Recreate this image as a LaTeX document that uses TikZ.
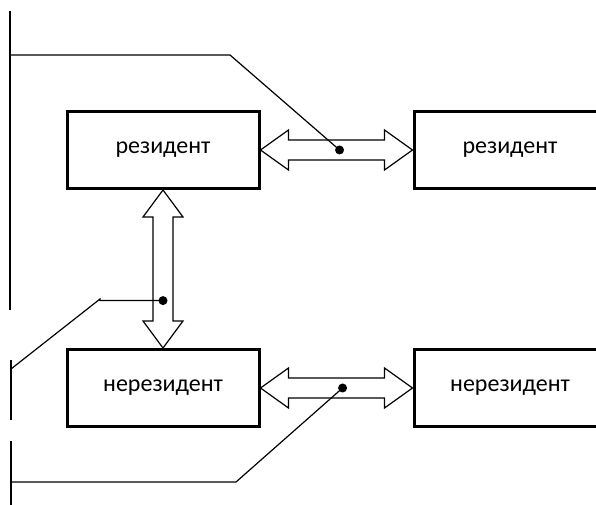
\documentclass[tikz,border=0pt]{standalone}
\usepackage{fontspec}
\setmainfont{Carlito}
\usetikzlibrary{calc}

\tikzset{
    party/.style={draw, line width=3pt, minimum width=192pt, minimum height=77pt,
        inner sep=0pt, font=\fontsize{24}{28}\selectfont},
    widearrow/.style={draw, line width=1.2pt, fill=white, line join=miter},
    lead/.style={line width=1.2pt},
    dot/.style={circle, fill=black, inner sep=0pt, minimum size=9pt}
}

% horizontal and vertical hollow double arrows between two anchors
\newcommand\hwide[2]{\draw[widearrow] (#1) -- ($(#1)+(28,20)$) -- ($(#1)+(28,10)$)
    -- ($(#2)+(-28,10)$) -- ($(#2)+(-28,20)$) -- (#2) -- ($(#2)+(-28,-20)$)
    -- ($(#2)+(-28,-10)$) -- ($(#1)+(28,-10)$) -- ($(#1)+(28,-20)$) -- cycle;}
\newcommand\vwide[2]{\draw[widearrow] (#1) -- ($(#1)+(20,-27)$) -- ($(#1)+(10,-27)$)
    -- ($(#2)+(10,27)$) -- ($(#2)+(20,27)$) -- (#2) -- ($(#2)+(-20,27)$)
    -- ($(#2)+(-10,27)$) -- ($(#1)+(-10,-27)$) -- ($(#1)+(-20,-27)$) -- cycle;}

\begin{document}
\begin{tikzpicture}[x=1pt, y=1pt]
    \useasboundingbox (0,0) rectangle (596,505);

    \node[party] (res1) at (163,355) {резидент};
    \node[party] (res2) at (510,355) {резидент};
    \node[party] (nonres1) at (163,117) {нерезидент};
    \node[party] (nonres2) at (510,117) {нерезидент};

    \hwide{res1.east}{res2.west}
    \vwide{res1.south}{nonres1.north}
    \hwide{nonres1.east}{nonres2.west}

    \node[dot] (topdot) at ($(res1.east)!0.52!(res2.west)$) {};
    \node[dot] (middot) at ($(res1.south)!0.70!(nonres1.north)$) {};
    \node[dot] (lowdot) at ($(nonres1.east)!0.54!(nonres2.west)$) {};

    % brackets on the left
    \coordinate (b1top) at (10,494);
    \coordinate (b1bot) at (10,195);
    \coordinate (b1arm) at (10,450);
    \coordinate (b1knee) at (230,450);
    \coordinate (b2top) at (11,145);
    \coordinate (b2bot) at (11,85);
    \coordinate (b2arm) at (11,136);
    \coordinate (b2knee) at (100,206);
    \coordinate (b3top) at (11,64);
    \coordinate (b3bot) at (11,0);
    \coordinate (b3arm) at (11,23);
    \coordinate (b3knee) at (236,23);

    \draw[lead] (b1top) -- (b1bot);
    \draw[lead] (b1arm) -- (b1knee) -- (topdot.center);
    \draw[lead] (b2top) -- (b2bot);
    \draw[lead] (b2arm) -- (b2knee) -- (middot.center -| b2knee) -- (middot.center);
    \draw[lead] (b3top) -- (b3bot);
    \draw[lead] (b3arm) -- (b3knee) -- (lowdot.center);
\end{tikzpicture}
\end{document}
